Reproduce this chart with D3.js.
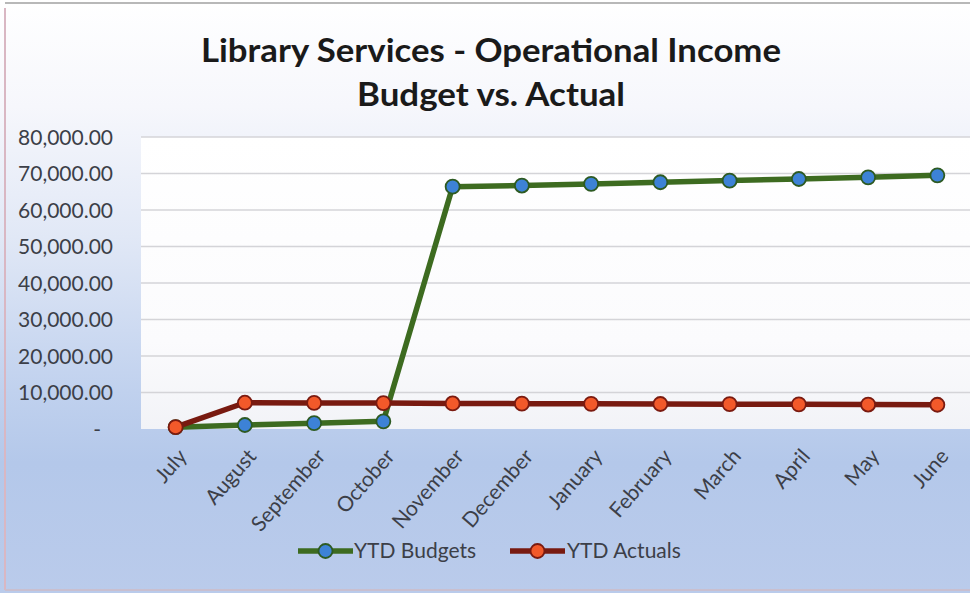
<!DOCTYPE html>
<html><head><meta charset="utf-8">
<script src="https://cdn.jsdelivr.net/npm/d3@7"></script>
<style>html,body{margin:0;padding:0;background:#fff;overflow:hidden}</style>
</head><body>
<svg id="c" width="970" height="593"></svg>
<script>
const months = ["July","August","September","October","November","December","January","February","March","April","May","June"];
const ytdBudgets = [500, 1100, 1600, 2100, 66400, 66700, 67150, 67600, 68050, 68500, 68950, 69500];
const ytdActuals = [500, 7200, 7150, 7100, 7000, 6950, 6900, 6850, 6800, 6750, 6700, 6650];
const yTicks = [0, 10000, 20000, 30000, 40000, 50000, 60000, 70000, 80000];
const titleLines = ["Library Services - Operational Income", "Budget vs. Actual"];
const seriesNames = ["YTD Budgets", "YTD Actuals"];

const svg = d3.select("#c");
const W = 970, H = 593;
const font = "Lato, 'Open Sans', sans-serif";

const defs = svg.append("defs");
const bg = defs.append("linearGradient").attr("id","bg").attr("x1",0).attr("y1",0).attr("x2",0).attr("y2",1);
[["0%","#ffffff"],["18%","#f6f7fc"],["40%","#e1e8f6"],["66%","#c0d1ee"],["78%","#b4c8ea"],["100%","#bacbeb"]]
  .forEach(([o,c])=>bg.append("stop").attr("offset",o).attr("stop-color",c));
const pg = defs.append("linearGradient").attr("id","pg").attr("x1",0).attr("y1",0).attr("x2",0).attr("y2",1);
[["0%","#ffffff"],["70%","#fbfbfd"],["100%","#f2f3f7"]].forEach(([o,c])=>pg.append("stop").attr("offset",o).attr("stop-color",c));

svg.append("rect").attr("x",0).attr("y",0).attr("width",W).attr("height",H).attr("fill","url(#bg)");
svg.append("line").attr("x1",5).attr("x2",5).attr("y1",8).attr("y2",590).attr("stroke","#d9b7c3").attr("stroke-width",2);
svg.append("line").attr("x1",5).attr("x2",W).attr("y1",590).attr("y2",590).attr("stroke","#c9bfcf").attr("stroke-width",2);
svg.append("line").attr("x1",5).attr("x2",W).attr("y1",3).attr("y2",3).attr("stroke","#b8b8b8").attr("stroke-width",2);

const pL = 141, pR = 972, pT = 137, pB = 429;
const x = d3.scalePoint().domain(months).range([pL, pR]).padding(0.5);
const y = d3.scaleLinear().domain([0, 80000]).range([pB, pT]);

svg.append("rect").attr("x",pL).attr("y",pT).attr("width",pR-pL).attr("height",pB-pT).attr("fill","url(#pg)");

svg.append("g").selectAll("line").data(yTicks.filter(d=>d>0)).join("line")
  .attr("x1",pL).attr("x2",pR).attr("y1",d=>y(d)).attr("y2",d=>y(d))
  .attr("stroke","#d4d4d8").attr("stroke-width",1.5);

const yAxis = d3.axisLeft(y).tickValues(yTicks).tickSize(0).tickPadding(0)
  .tickFormat(d => d === 0 ? "-" : d3.format(",.2f")(d));
const ya = svg.append("g").attr("transform",`translate(113,0)`).call(yAxis);
ya.select(".domain").remove();
ya.selectAll("text").attr("font-family",font).attr("font-size",21).attr("fill","#3c3f48").attr("dy","0.35em");
ya.selectAll(".tick").filter(d=>d===0).select("text").attr("dx",-12);

const xAxis = d3.axisBottom(x).tickSize(0).tickPadding(0);
const xa = svg.append("g").attr("transform",`translate(0,${pB})`).call(xAxis);
xa.select(".domain").remove();
xa.selectAll("text").attr("font-family",font).attr("font-size",21).attr("fill","#3c3f48")
  .attr("text-anchor","end").attr("dy",0).attr("y",0)
  .attr("transform","translate(12,28) rotate(-49)");

const line = d3.line().x((d,i)=>x(months[i])).y(d=>y(d));
const series = [
  {name: seriesNames[0], vals: ytdBudgets, stroke:"#3d6b20", fill:"#3d82d6", mstroke:"#2d5a22"},
  {name: seriesNames[1], vals: ytdActuals, stroke:"#781a10", fill:"#f2592a", mstroke:"#7a1a10"}
];
series.forEach(s=>{
  svg.append("path").datum(s.vals).attr("d",line).attr("fill","none")
    .attr("stroke",s.stroke).attr("stroke-width",5.5).attr("stroke-linejoin","round");
});
series.forEach(s=>{
  svg.append("g").selectAll("circle").data(s.vals).join("circle")
    .attr("cx",(d,i)=>x(months[i])).attr("cy",d=>y(d)).attr("r",7)
    .attr("fill",s.fill).attr("stroke",s.mstroke).attr("stroke-width",1.8);
});

const tW = [580, 268];
svg.append("g").selectAll("text").data(titleLines).join("text")
  .attr("x",491).attr("y",(d,i)=>62+i*44).attr("text-anchor","middle")
  .attr("font-family",font).attr("font-weight","bold").attr("font-size",32).attr("fill","#1a1a1a")
  .attr("textLength",(d,i)=>tW[i]).attr("lengthAdjust","spacingAndGlyphs")
  .text(d=>d);

const lg = [{x0:298, tx:354}, {x0:510, tx:567}];
series.forEach((s,i)=>{
  const g = svg.append("g");
  g.append("line").attr("x1",lg[i].x0).attr("x2",lg[i].x0+55).attr("y1",551).attr("y2",551)
    .attr("stroke",s.stroke).attr("stroke-width",5.5);
  g.append("circle").attr("cx",lg[i].x0+27.5).attr("cy",551).attr("r",7)
    .attr("fill",s.fill).attr("stroke",s.mstroke).attr("stroke-width",1.8);
  g.append("text").attr("x",lg[i].tx).attr("y",551).attr("dy","0.35em")
    .attr("font-family",font).attr("font-size",21).attr("fill","#3c3f48").text(s.name);
});
</script>
</body></html>
